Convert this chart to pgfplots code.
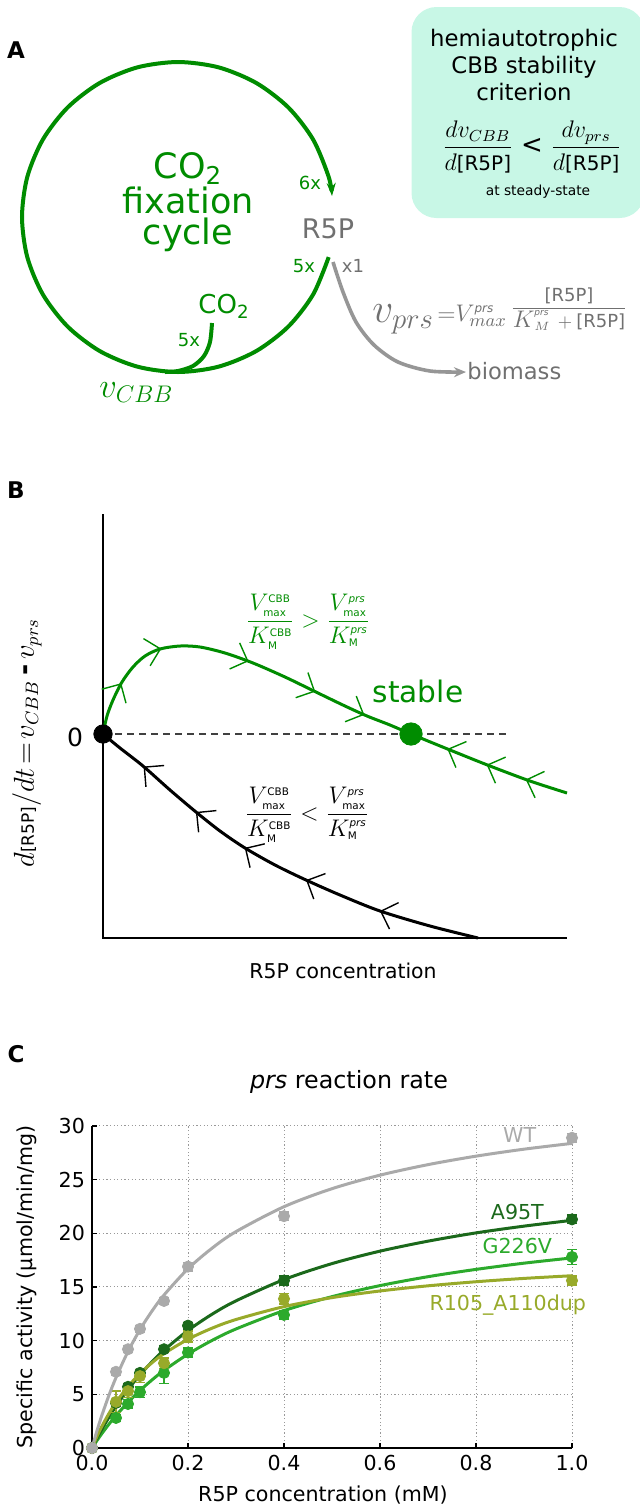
\documentclass[border=0pt]{standalone}
\usepackage{fontspec}
\setmainfont{DejaVu Sans}
\usepackage{amsmath}
\usepackage{pgfplots}
\pgfplotsset{compat=1.18}
\usetikzlibrary{arrows.meta,decorations.markings}

\definecolor{cgreen}{RGB}{0,140,0}
\definecolor{tgray}{RGB}{112,112,112}
\definecolor{agray}{RGB}{150,150,150}
\definecolor{mint}{RGB}{200,247,230}
\definecolor{cwt}{RGB}{170,170,170}
\definecolor{ca95}{RGB}{27,105,27}
\definecolor{cg226}{RGB}{44,170,44}
\definecolor{cr105}{RGB}{152,170,42}

\newcommand{\fs}[1]{\fontsize{#1}{#1}\selectfont}
\newcommand{\tsub}[1]{\text{\fs{5.2}#1}}
\tikzset{chev/.tip={Straight Barb[length=7pt,width=14pt,line width=0.7pt]}}

\begin{document}
\begin{tikzpicture}
\path[use as bounding box] (0,0) rectangle (320pt,753pt);

% panels A and B, drawn in pixel units of the page
\begin{axis}[at={(0pt,0pt)}, anchor=south west, scale only axis,
  width=320pt, height=753pt, xmin=0, xmax=640, ymin=0, ymax=1506,
  y dir=reverse, hide axis, clip=false]

% ---------- A ----------
\node[font=\bfseries\fs{11.5}] at (16,50) {A};
\node[fill=mint, rounded corners=12.5pt, minimum width=116.5pt, minimum height=105.5pt, inner sep=0pt] at (528,112.5) {};
\node[anchor=base, font=\fs{11.4}] at (524,46) {hemiautotrophic};
\node[anchor=base, font=\fs{11.4}] at (524,73) {CBB stability};
\node[anchor=base, font=\fs{11.4}] at (524,100) {criterion};
\node[font=\fs{12}] at (532,147) {$\dfrac{dv_{CBB}}{d\text{\fs{10}[R5P]}}\ \text{\fs{13}<}\ \dfrac{dv_{prs}}{d\text{\fs{10}[R5P]}}$};
\node[anchor=base, font=\fs{6.9}] at (538,195) {at steady-state};

% cycle
\addplot[cgreen, line width=2pt, smooth, -{Stealth[length=6.5pt,width=4.5pt]}] coordinates {
 (328.7,257.1) (313.1,294.5) (288.3,326.6) (256,351.2) (218.4,366.7) (178,372)
 (137.6,366.7) (100,351.2) (67.7,326.6) (42.9,294.5) (27.3,257.1) (22,217)
 (27.3,176.9) (42.9,139.5) (67.7,107.4) (100,82.8) (137.6,67.3) (178,62)
 (218.4,67.3) (256,82.8) (288.3,107.4) (313.1,139.5) (328.7,176.9) (332,196)};
\addplot[cgreen, line width=2pt, smooth] coordinates {
 (212,323) (210,342) (204,356) (193,366) (178,371) (165,372)};
\addplot[agray, line width=1.8pt, smooth, -{Stealth[length=6pt,width=5pt]}] coordinates {
 (333,262) (343,292) (356,322) (374,345) (398,362) (430,371) (466,372)};

\node[anchor=base, text=cgreen, font=\fs{17.5}] at (188,178) {CO\textsubscript{2}};
\node[anchor=base, text=cgreen, font=\fs{17.5}] at (188,213) {fixation};
\node[anchor=base, text=cgreen, font=\fs{17.5}] at (188,244) {cycle};
\node[anchor=base, text=cgreen, font=\fs{9}] at (310,189) {6x};
\node[anchor=base, text=cgreen, font=\fs{9}] at (304,272) {5x};
\node[anchor=base, text=tgray, font=\fs{9}] at (353,272) {x1};
\node[anchor=base, text=cgreen, font=\fs{9}] at (189,346) {5x};
\node[anchor=base, text=tgray, font=\fs{13.5}] at (328,238) {R5P};
\node[anchor=base west, text=cgreen, font=\fs{13}, inner sep=0pt] at (198,313) {CO\textsubscript{2}};
\node[anchor=base west, text=cgreen, font=\fs{17.5}, inner sep=0pt] at (99,397) {$v_{CBB}$};
\node[anchor=base west, text=tgray, font=\fs{11.3}, inner sep=0pt] at (467,379) {biomass};
\node[anchor=base west, text=tgray, font=\fs{20}, inner sep=0pt] at (372,322) {$v_{prs}$};
\node[anchor=base west, text=tgray, font=\fs{12.5}, inner sep=0pt] at (437,321) {${=}V^{\text{\fs{6}\itshape prs}}_{max}$};
\node[text=tgray, font=\fs{9}, inner sep=0pt] at (569,309) {$\dfrac{\text{[R5P]}}{\text{\fs{12}$K$}^{\text{\fs{4.5}\itshape prs}}_{M}\,+\text{[R5P]}}$};

% ---------- B ----------
\node[font=\bfseries\fs{11.5}] at (16,490) {B};
\addplot[black, line width=1pt] coordinates {(103,514) (103,938) (567,938)};
\addplot[black!75, line width=1pt, dash pattern=on 3.5pt off 2.5pt] coordinates {(103,734) (510,734)};
\addplot[cgreen, line width=1.5pt, smooth, postaction={decorate}, decoration={markings,
  mark=at position 0.10 with {\arrow{chev}},
  mark=at position 0.20 with {\arrow{chev}},
  mark=at position 0.365 with {\arrow{chev}},
  mark=at position 0.50 with {\arrow{chev}},
  mark=at position 0.60 with {\arrow{chev}},
  mark=at position 0.765 with {\arrowreversed{chev}},
  mark=at position 0.843 with {\arrowreversed{chev}},
  mark=at position 0.92 with {\arrowreversed{chev}}}] coordinates {
 (103,734) (107,716) (113,700) (122,682) (133,667) (145,656) (160,649) (180,646)
 (200,647) (225,653) (253,663) (285,677) (318,693) (345,706) (367,716) (390,725)
 (411,734) (450,750) (490,766) (530,781) (567,793)};
\addplot[black, line width=1.5pt, smooth, postaction={decorate}, decoration={markings,
  mark=at position 0.12 with {\arrowreversed{chev}},
  mark=at position 0.28 with {\arrowreversed{chev}},
  mark=at position 0.42 with {\arrowreversed{chev}},
  mark=at position 0.58 with {\arrowreversed{chev}},
  mark=at position 0.765 with {\arrowreversed{chev}}}] coordinates {
 (103,734) (120,748) (143,766) (170,790) (196,812) (220,831) (245,848) (275,865)
 (306,880) (340,895) (380,911) (430,926) (478,938)};
\addplot[only marks, mark=*, mark size=4.6pt, black] coordinates {(103,734)};
\addplot[only marks, mark=*, mark size=5.6pt, cgreen] coordinates {(411,734)};

\node[font=\fs{12.5}] at (75,737) {0};
\node[anchor=base, text=cgreen, font=\fs{14.8}] at (418,702) {stable};
\node[text=cgreen, font=\fs{12.5}] at (308,622) {$\dfrac{V^{\tsub{CBB}}_{\tsub{max}}}{K^{\tsub{CBB}}_{\tsub{M}}} > \dfrac{V^{\tsub{\itshape prs}}_{\tsub{max}}}{K^{\tsub{\itshape prs}}_{\tsub{M}}}$};
\node[font=\fs{12.5}] at (307,815) {$\dfrac{V^{\tsub{CBB}}_{\tsub{max}}}{K^{\tsub{CBB}}_{\tsub{M}}} < \dfrac{V^{\tsub{\itshape prs}}_{\tsub{max}}}{K^{\tsub{\itshape prs}}_{\tsub{M}}}$};
\node[rotate=90, font=\fs{13.5}] at (27,743) {$d\text{\fs{8.5}[R5P]}/dt\!=\!v_{CBB}\,\text{\bfseries -}\,v_{prs}$};
\node[anchor=base, font=\fs{10.2}] at (343,978) {R5P concentration};

% ---------- C labels ----------
\node[font=\bfseries\fs{11.5}] at (16,1054) {C};
\node[anchor=base, font=\fs{11.9}] at (349,1088) {\textit{prs} reaction rate};
\node[anchor=base, font=\fs{10.3}] at (323,1501) {R5P concentration (mM)};
\node[rotate=90, font=\fs{10.3}] at (27,1287) {Specific activity (µmol/min/mg)};
\end{axis}

% ---------- C ----------
\begin{axis}[at={(46pt,29pt)}, anchor=south west, scale only axis,
  width=240pt, height=161pt, xmin=0, xmax=1, ymin=0, ymax=30,
  axis lines*=left, axis line style={black, line width=0.8pt},
  xtick={0,0.2,0.4,0.6,0.8,1.0}, ytick={0,5,10,15,20,25,30},
  grid=major, grid style={gray!80, line width=0.5pt, dash pattern=on 0.6pt off 1.2pt},
  tick align=inside, major tick length=2.5pt, tick style={black, line width=0.6pt},
  ticklabel style={font=\fs{10.3}},
  /pgf/number format/assume math mode=true,
  xticklabel style={/pgf/number format/.cd, fixed, fixed zerofill, precision=1},
  clip=false,
  error bars/y dir=both, error bars/y explicit,
  error bars/error bar style={line width=0.8pt},
  error bars/error mark options={rotate=90, mark size=2.6pt, line width=0.8pt}]

% G226V
\addplot[cg226, line width=1.5pt, smooth] coordinates {
 (0,0) (0.01,0.67) (0.02,1.31) (0.035,2.20) (0.05,3.02) (0.075,4.26) (0.1,5.36)
 (0.125,6.34) (0.15,7.23) (0.2,8.75) (0.25,10.02) (0.3,11.09) (0.4,12.80) (0.5,14.10)
 (0.6,15.13) (0.7,15.96) (0.8,16.64) (0.9,17.22) (1.0,17.71)};
\addplot[cg226, only marks, mark=*, mark size=2.8pt] coordinates {
 (0,0) +- (0,0) (0.05,2.8) +- (0,0.3) (0.075,4.1) +- (0,0.4) (0.1,5.2) +- (0,0.5)
 (0.15,7.0) +- (0,1.0) (0.2,8.9) +- (0,0.4) (0.4,12.4) +- (0,0.4) (1.0,17.8) +- (0,0.7)};

% A95T
\addplot[ca95, line width=1.5pt, smooth] coordinates {
 (0,0) (0.01,0.88) (0.02,1.70) (0.035,2.84) (0.05,3.89) (0.075,5.45) (0.1,6.82)
 (0.125,8.03) (0.15,9.11) (0.2,10.95) (0.25,12.46) (0.3,13.71) (0.4,15.69) (0.5,17.18)
 (0.6,18.34) (0.7,19.27) (0.8,20.04) (0.9,20.67) (1.0,21.21)};
\addplot[ca95, only marks, mark=*, mark size=2.8pt] coordinates {
 (0,0) +- (0,0) (0.05,4.2) +- (0,0.3) (0.075,5.7) +- (0,0.3) (0.1,7.0) +- (0,0.3)
 (0.15,9.2) +- (0,0.3) (0.2,11.4) +- (0,0.3) (0.4,15.6) +- (0,0.4) (1.0,21.3) +- (0,0.4)};

% R105_A110dup
\addplot[cr105, line width=1.5pt, smooth] coordinates {
 (0,0) (0.01,1.04) (0.02,1.97) (0.035,3.19) (0.05,4.25) (0.075,5.73) (0.1,6.94)
 (0.125,7.94) (0.15,8.79) (0.2,10.13) (0.25,11.16) (0.3,11.97) (0.4,13.17) (0.5,14.01)
 (0.6,14.63) (0.7,15.11) (0.8,15.49) (0.9,15.80) (1.0,16.05)};
\addplot[cr105, only marks, mark=*, mark size=2.8pt] coordinates {
 (0,0) +- (0,0) (0.05,4.3) +- (0,1.0) (0.075,5.3) +- (0,0.6) (0.1,6.7) +- (0,0.6)
 (0.15,7.9) +- (0,0.5) (0.2,10.4) +- (0,0.5) (0.4,13.9) +- (0,0.5) (1.0,15.6) +- (0,0.4)};

% WT
\addplot[cwt, line width=1.5pt, smooth] coordinates {
 (0,0) (0.01,1.55) (0.02,2.97) (0.035,4.87) (0.05,6.56) (0.075,8.99) (0.1,11.03)
 (0.125,12.76) (0.15,14.25) (0.2,16.70) (0.25,18.61) (0.3,20.16) (0.4,22.48) (0.5,24.16)
 (0.6,25.42) (0.7,26.40) (0.8,27.19) (0.9,27.84) (1.0,28.38)};
\addplot[cwt, only marks, mark=*, mark size=2.8pt] coordinates {
 (0,0) +- (0,0) (0.05,7.1) +- (0,0.3) (0.075,9.2) +- (0,0.3) (0.1,11.1) +- (0,0.3)
 (0.15,13.7) +- (0,0.3) (0.2,16.9) +- (0,0.4) (0.4,21.6) +- (0,0.4) (1.0,28.9) +- (0,0.4)};

\node[anchor=east, text=cwt, font=\fs{10.3}] at (axis cs:0.94,29.2) {WT};
\node[anchor=east, text=ca95, font=\fs{10.3}] at (axis cs:0.956,22.0) {A95T};
\node[anchor=east, text=cg226, font=\fs{10.3}] at (axis cs:0.973,18.8) {G226V};
\node[anchor=east, text=cr105, font=\fs{10.3}] at (axis cs:1.044,13.3) {R105\_A110dup};
\end{axis}
\end{tikzpicture}
\end{document}
